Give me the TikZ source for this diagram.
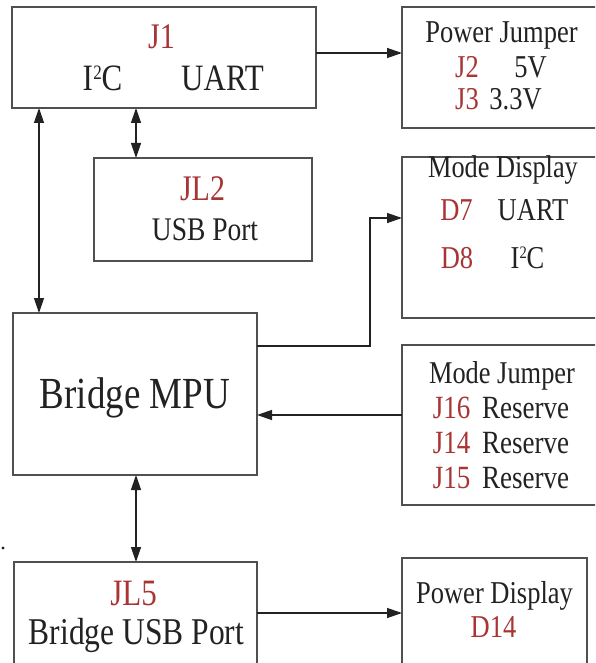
\documentclass[tikz,border=0pt]{standalone}
\usepackage{fontspec}
\setmainfont{Liberation Serif}
\usetikzlibrary{arrows.meta}
\definecolor{ink}{HTML}{222222}
\definecolor{redink}{HTML}{A83434}
\definecolor{edge}{HTML}{505050}
\newcommand{\vs}[2]{\scalebox{1}[1.2]{\fontsize{#1}{#1}\selectfont #2}}
\newcommand{\itwoc}{I\kern0.01em\raisebox{0.3em}{\scalebox{0.55}{2}}\kern-0.01em C}
\tikzset{
  box/.style={draw=edge, line width=1.6pt, inner sep=0pt, outer sep=0pt, fill=white},
  txt/.style={anchor=base, inner sep=0pt, outer sep=0pt, text=ink},
  rtxt/.style={txt, text=redink},
  conn/.style={draw=ink, line width=1.3pt},
  arr/.style={conn, -{Triangle[length=15pt,width=10pt]}},
  dbl/.style={conn, {Triangle[length=15pt,width=10pt]}-{Triangle[length=15pt,width=10pt]}},
}
\begin{document}
\begin{tikzpicture}[x=1pt,y=-1pt]
\useasboundingbox (0,0) rectangle (595,663);
\fill[white] (0,0) rectangle (595,663);
\clip (0,0) rectangle (595,663);
% boxes
\node[box, minimum width=304pt, minimum height=101pt] (J1) at (164,57.5) {};
\node[box, minimum width=203pt, minimum height=121pt] (PJ) at (503.5,67.5) {};
\node[box, minimum width=218pt, minimum height=103pt] (JL2) at (203,209.5) {};
\node[box, minimum width=203pt, minimum height=161pt] (MD) at (503.5,237.5) {};
\node[box, minimum width=244pt, minimum height=162pt] (MPU) at (135,394) {};
\node[box, minimum width=203pt, minimum height=160pt] (MJ) at (503.5,425) {};
\node[box, minimum width=243pt, minimum height=118pt] (JL5) at (135.5,621) {};
\node[box, minimum width=185pt, minimum height=122pt] (PD) at (494.5,619) {};
% texts
\node[rtxt] (tJ1) at (161.5,49) {\vs{30pt}{J1}};
\node[txt] (tI2C) at (102.5,91) {\vs{31pt}{\itwoc}};
\node[txt] (tUART) at (222.5,91) {\vs{31pt}{UART}};
\node[rtxt] (tJL2) at (202.5,200) {\vs{30pt}{JL2}};
\node[txt] (tUSB) at (205,240) {\vs{27.5pt}{USB Port}};
\node[txt] (tMPU) at (135,408) {\vs{37pt}{Bridge MPU}};
\node[txt] (tPJ) at (501.5,43) {\vs{26.5pt}{Power Jumper}};
\node[rtxt] (tJ2) at (467,78) {\vs{26.5pt}{J2}};
\node[txt] (t5V) at (530.5,78) {\vs{26.5pt}{5V}};
\node[rtxt] (tJ3) at (467,110) {\vs{26.5pt}{J3}};
\node[txt] (t33V) at (515.5,110) {\vs{26.5pt}{3.3V}};
\node[txt] (tMD) at (503,178) {\vs{26.3pt}{Mode Display}};
\node[rtxt] (tD7) at (456.5,220) {\vs{26.5pt}{D7}};
\node[txt] (tUART2) at (533,220) {\vs{26.5pt}{UART}};
\node[rtxt] (tD8) at (457,268) {\vs{26.5pt}{D8}};
\node[txt] (tI2C2) at (527.5,268) {\vs{26.5pt}{\itwoc}};
\node[txt] (tMJ) at (502,383) {\vs{26.4pt}{Mode Jumper}};
\node[rtxt] (tJ16) at (451.5,418) {\vs{27pt}{J16}};
\node[txt] (tR1) at (525.5,418) {\vs{27pt}{Reserve}};
\node[rtxt] (tJ14) at (451.5,453) {\vs{27pt}{J14}};
\node[txt] (tR2) at (525.5,453) {\vs{27pt}{Reserve}};
\node[rtxt] (tJ15) at (451.5,488) {\vs{27pt}{J15}};
\node[txt] (tR3) at (525.5,488) {\vs{27pt}{Reserve}};
\node[txt] (tPD) at (494.5,603) {\vs{26.5pt}{Power Display}};
\node[rtxt] (tD14) at (493.5,637) {\vs{26.5pt}{D14}};
\node[rtxt] (tJL5) at (133.5,605) {\vs{31pt}{JL5}};
\node[txt] (tBUSB) at (136.5,644) {\vs{31.5pt}{Bridge USB Port}};
% connectors
\draw[arr] (J1.east |- 0,53) -- (PJ.west |- 0,53);
\draw[dbl] (J1.south -| 136,0) -- (JL2.north -| 136,0);
\draw[dbl] (J1.south -| 39,0) -- (MPU.north -| 39,0);
\draw[arr] (MPU.east |- 0,346) -| (370,218) -- (MD.west |- 0,218);
\draw[arr] (MJ.west |- 0,415) -- (MPU.east |- 0,415);
\draw[dbl] (MPU.south -| 136,0) -- (JL5.north -| 136,0);
\draw[arr] (JL5.east |- 0,613) -- (PD.west |- 0,613);
\coordinate (speck) at (3,548);
\fill[ink] (speck) circle (1.6pt);
\end{tikzpicture}
\end{document}
